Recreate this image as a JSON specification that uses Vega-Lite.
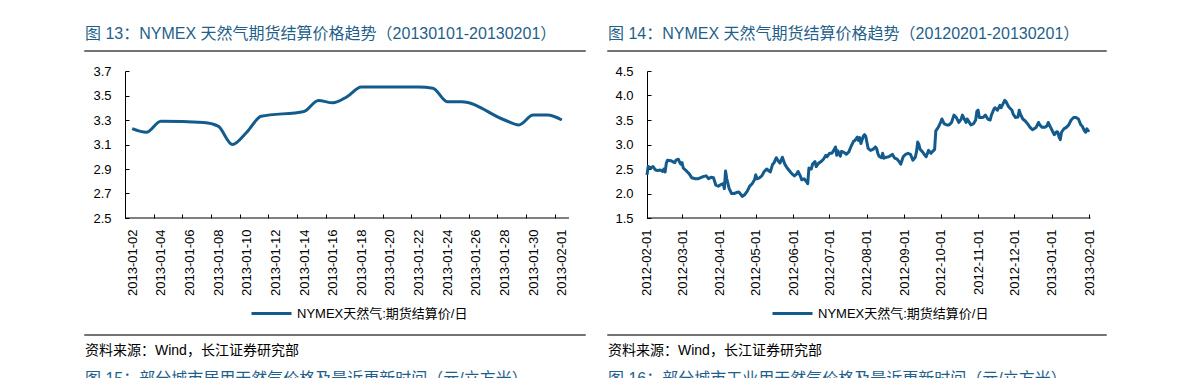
{
  "$schema": "https://vega.github.io/schema/vega-lite/v6.json",
  "background": "white",
  "padding": {"left": 84, "top": 25, "right": 10, "bottom": 0},
  "spacing": 21,
  "resolve": {"scale": {"color": "independent"}, "legend": {"color": "independent"}},
  "config": {
    "font": "Liberation Sans, Noto Sans CJK SC, sans-serif",
    "view": {"stroke": null},
    "axis": {"grid": false, "labelColor": "#000", "domainColor": "#000", "tickColor": "#000", "labelFontSize": 13, "tickSize": -4, "labelOverlap": false}
  },
  "hconcat": [
    {
      "spacing": 13,
      "resolve": {"scale": {"color": "independent"}, "legend": {"color": "independent"}},
      "vconcat": [
        {
          "width": 500, "height": 0.01,
          "view": {"stroke": "#444", "strokeWidth": 1.5},
          "title": {"text": "图 13：NYMEX 天然气期货结算价格趋势（20130101-20130201）", "anchor": "start", "frame": "group", "orient": "top", "offset": 9, "fontSize": 16, "fontWeight": "normal", "color": "#1F5F8B"},
          "data": {"values": []},
          "mark": "point"
        },
        {
          "width": 500, "height": 147,
          "data": {"values": [
            {"date": "2013-01-02", "price": 3.23},
            {"date": "2013-01-03", "price": 3.20},
            {"date": "2013-01-04", "price": 3.29},
            {"date": "2013-01-07", "price": 3.28},
            {"date": "2013-01-08", "price": 3.25},
            {"date": "2013-01-09", "price": 3.10},
            {"date": "2013-01-10", "price": 3.20},
            {"date": "2013-01-11", "price": 3.33},
            {"date": "2013-01-14", "price": 3.37},
            {"date": "2013-01-15", "price": 3.46},
            {"date": "2013-01-16", "price": 3.44},
            {"date": "2013-01-17", "price": 3.49},
            {"date": "2013-01-18", "price": 3.57},
            {"date": "2013-01-22", "price": 3.57},
            {"date": "2013-01-23", "price": 3.56},
            {"date": "2013-01-24", "price": 3.45},
            {"date": "2013-01-25", "price": 3.45},
            {"date": "2013-01-28", "price": 3.30},
            {"date": "2013-01-29", "price": 3.26},
            {"date": "2013-01-30", "price": 3.34},
            {"date": "2013-01-31", "price": 3.34},
            {"date": "2013-02-01", "price": 3.30}
          ]},
          "layer": [
            {
              "mark": {"type": "line", "interpolate": "monotone", "strokeWidth": 3},
              "encoding": {
                "x": {"field": "date", "type": "temporal",
                  "scale": {"type": "utc", "domain": [{"year": 2012, "month": 12, "date": 29, "hours": 16, "minutes": 58, "utc": true}, {"year": 2013, "month": 2, "date": 2, "hours": 14, "minutes": 49, "utc": true}]},
                  "axis": {
                    "values": [
                      {"year": 2013, "month": 1, "date": 2, "utc": true},
                      {"year": 2013, "month": 1, "date": 4, "utc": true},
                      {"year": 2013, "month": 1, "date": 6, "utc": true},
                      {"year": 2013, "month": 1, "date": 8, "utc": true},
                      {"year": 2013, "month": 1, "date": 10, "utc": true},
                      {"year": 2013, "month": 1, "date": 12, "utc": true},
                      {"year": 2013, "month": 1, "date": 14, "utc": true},
                      {"year": 2013, "month": 1, "date": 16, "utc": true},
                      {"year": 2013, "month": 1, "date": 18, "utc": true},
                      {"year": 2013, "month": 1, "date": 20, "utc": true},
                      {"year": 2013, "month": 1, "date": 22, "utc": true},
                      {"year": 2013, "month": 1, "date": 24, "utc": true},
                      {"year": 2013, "month": 1, "date": 26, "utc": true},
                      {"year": 2013, "month": 1, "date": 28, "utc": true},
                      {"year": 2013, "month": 1, "date": 30, "utc": true},
                      {"year": 2013, "month": 2, "date": 1, "utc": true}
                    ],
                    "tickCount": 40,
                    "format": "%Y-%m-%d", "labelAngle": 270, "labelPadding": 15,
                    "labelFlush": false, "labelOverlap": false, "labelBound": false,
                    "tickOffset": -7.16, "labelOffset": 7.16,
                    "domain": false, "title": null
                  }
                },
                "y": {"field": "price", "type": "quantitative",
                  "scale": {"domain": [2.5, 3.7], "nice": false, "zero": false},
                  "axis": {"values": [2.5, 2.7, 2.9, 3.1, 3.3, 3.5, 3.7], "tickCount": 20, "format": ".1f", "offset": -40, "labelPadding": 18, "labelOverlap": false, "title": null}
                },
                "color": {"datum": "NYMEX天然气:期货结算价/日", "type": "nominal",
                  "scale": {"range": ["#135B8C"]},
                  "legend": {"title": null, "orient": "none", "legendX": 165, "legendY": 236, "symbolType": "M-1,0H7", "symbolSize": 100, "symbolStrokeWidth": 3, "labelOffset": 34, "labelFontSize": 13, "labelColor": "#000", "padding": 0, "labelLimit": 400}
                }
              }
            },
            {
              "data": {"values": [{}]},
              "mark": {"type": "rule", "color": "#000", "strokeWidth": 1},
              "encoding": {
                "x": {"datum": {"year": 2013, "month": 1, "date": 1, "hours": 12, "utc": true}, "type": "temporal"},
                "x2": {"datum": {"year": 2013, "month": 2, "date": 1, "hours": 12, "utc": true}},
                "y": {"datum": 2.5, "type": "quantitative"}
              }
            }
          ]
        },
        {
          "width": 500, "height": 0.01,
          "view": {"stroke": "#444", "strokeWidth": 1.5},
          "title": {"text": "资料来源：Wind，长江证券研究部", "anchor": "start", "frame": "group", "orient": "bottom", "offset": 9, "fontSize": 14, "fontWeight": "normal", "color": "#000",
            "subtitle": "图 15：部分城市居用天然气价格及最近更新时间（元/立方米）", "subtitleFontSize": 16, "subtitleColor": "#1F5F8B", "subtitlePadding": 13},
          "data": {"values": []},
          "mark": "point"
        }
      ]
    },
    {
      "spacing": 13,
      "resolve": {"scale": {"color": "independent"}, "legend": {"color": "independent"}},
      "vconcat": [
        {
          "width": 498, "height": 0.01,
          "view": {"stroke": "#444", "strokeWidth": 1.5},
          "title": {"text": "图 14：NYMEX 天然气期货结算价格趋势（20120201-20130201）", "anchor": "start", "frame": "group", "orient": "top", "offset": 9, "fontSize": 16, "fontWeight": "normal", "color": "#1F5F8B"},
          "data": {"values": []},
          "mark": "point"
        },
        {
          "width": 498, "height": 147,
          "data": {"values": [
            {"date": "2012-02-01", "price": 2.38}, {"date": "2012-02-02", "price": 2.55}, {"date": "2012-02-04", "price": 2.52}, {"date": "2012-02-06", "price": 2.55},
            {"date": "2012-02-08", "price": 2.48}, {"date": "2012-02-10", "price": 2.47}, {"date": "2012-02-12", "price": 2.48}, {"date": "2012-02-14", "price": 2.45},
            {"date": "2012-02-15", "price": 2.50}, {"date": "2012-02-16", "price": 2.44}, {"date": "2012-02-17", "price": 2.62}, {"date": "2012-02-18", "price": 2.68},
            {"date": "2012-02-21", "price": 2.67}, {"date": "2012-02-23", "price": 2.64}, {"date": "2012-02-24", "price": 2.63}, {"date": "2012-02-25", "price": 2.68},
            {"date": "2012-02-27", "price": 2.70}, {"date": "2012-02-28", "price": 2.64}, {"date": "2012-02-29", "price": 2.60}, {"date": "2012-03-01", "price": 2.63},
            {"date": "2012-03-02", "price": 2.52}, {"date": "2012-03-05", "price": 2.45}, {"date": "2012-03-07", "price": 2.40}, {"date": "2012-03-09", "price": 2.32},
            {"date": "2012-03-12", "price": 2.30}, {"date": "2012-03-14", "price": 2.30}, {"date": "2012-03-16", "price": 2.32}, {"date": "2012-03-19", "price": 2.35},
            {"date": "2012-03-21", "price": 2.36}, {"date": "2012-03-23", "price": 2.30}, {"date": "2012-03-25", "price": 2.33}, {"date": "2012-03-27", "price": 2.32},
            {"date": "2012-03-29", "price": 2.17}, {"date": "2012-03-31", "price": 2.15}, {"date": "2012-04-02", "price": 2.18}, {"date": "2012-04-04", "price": 2.20},
            {"date": "2012-04-05", "price": 2.10}, {"date": "2012-04-06", "price": 2.46}, {"date": "2012-04-07", "price": 2.30}, {"date": "2012-04-09", "price": 2.10},
            {"date": "2012-04-11", "price": 2.00}, {"date": "2012-04-13", "price": 2.00}, {"date": "2012-04-15", "price": 2.02}, {"date": "2012-04-17", "price": 2.03},
            {"date": "2012-04-19", "price": 1.97}, {"date": "2012-04-20", "price": 1.94}, {"date": "2012-04-22", "price": 1.98}, {"date": "2012-04-24", "price": 2.05},
            {"date": "2012-04-26", "price": 2.15}, {"date": "2012-04-28", "price": 2.20}, {"date": "2012-04-30", "price": 2.28}, {"date": "2012-05-01", "price": 2.38},
            {"date": "2012-05-02", "price": 2.30}, {"date": "2012-05-04", "price": 2.32}, {"date": "2012-05-06", "price": 2.36}, {"date": "2012-05-08", "price": 2.45},
            {"date": "2012-05-10", "price": 2.50}, {"date": "2012-05-12", "price": 2.46}, {"date": "2012-05-13", "price": 2.44}, {"date": "2012-05-15", "price": 2.60},
            {"date": "2012-05-16", "price": 2.62}, {"date": "2012-05-18", "price": 2.73}, {"date": "2012-05-20", "price": 2.65}, {"date": "2012-05-21", "price": 2.62},
            {"date": "2012-05-23", "price": 2.74}, {"date": "2012-05-25", "price": 2.60}, {"date": "2012-05-27", "price": 2.52}, {"date": "2012-05-29", "price": 2.46},
            {"date": "2012-05-31", "price": 2.40}, {"date": "2012-06-02", "price": 2.36}, {"date": "2012-06-04", "price": 2.40}, {"date": "2012-06-05", "price": 2.45},
            {"date": "2012-06-07", "price": 2.35}, {"date": "2012-06-08", "price": 2.28}, {"date": "2012-06-10", "price": 2.30}, {"date": "2012-06-12", "price": 2.24},
            {"date": "2012-06-13", "price": 2.20}, {"date": "2012-06-14", "price": 2.52}, {"date": "2012-06-16", "price": 2.50}, {"date": "2012-06-17", "price": 2.60},
            {"date": "2012-06-19", "price": 2.65}, {"date": "2012-06-20", "price": 2.55}, {"date": "2012-06-22", "price": 2.62}, {"date": "2012-06-24", "price": 2.65},
            {"date": "2012-06-26", "price": 2.70}, {"date": "2012-06-28", "price": 2.78}, {"date": "2012-06-29", "price": 2.75}, {"date": "2012-07-01", "price": 2.82},
            {"date": "2012-07-03", "price": 2.82}, {"date": "2012-07-05", "price": 2.90}, {"date": "2012-07-06", "price": 2.95}, {"date": "2012-07-07", "price": 2.78},
            {"date": "2012-07-08", "price": 2.87}, {"date": "2012-07-10", "price": 2.76}, {"date": "2012-07-11", "price": 2.86}, {"date": "2012-07-13", "price": 2.84},
            {"date": "2012-07-15", "price": 2.80}, {"date": "2012-07-17", "price": 2.85}, {"date": "2012-07-19", "price": 2.97}, {"date": "2012-07-21", "price": 3.07},
            {"date": "2012-07-22", "price": 3.08}, {"date": "2012-07-24", "price": 3.15}, {"date": "2012-07-25", "price": 3.08}, {"date": "2012-07-26", "price": 3.14},
            {"date": "2012-07-27", "price": 3.02}, {"date": "2012-07-29", "price": 3.17}, {"date": "2012-07-30", "price": 3.20}, {"date": "2012-07-31", "price": 3.17},
            {"date": "2012-08-02", "price": 2.92}, {"date": "2012-08-04", "price": 2.88}, {"date": "2012-08-06", "price": 2.90}, {"date": "2012-08-08", "price": 2.95},
            {"date": "2012-08-09", "price": 2.92}, {"date": "2012-08-10", "price": 2.82}, {"date": "2012-08-11", "price": 2.76}, {"date": "2012-08-13", "price": 2.73},
            {"date": "2012-08-14", "price": 2.82}, {"date": "2012-08-15", "price": 2.72}, {"date": "2012-08-17", "price": 2.74}, {"date": "2012-08-19", "price": 2.75},
            {"date": "2012-08-21", "price": 2.78}, {"date": "2012-08-22", "price": 2.80}, {"date": "2012-08-24", "price": 2.72}, {"date": "2012-08-26", "price": 2.70},
            {"date": "2012-08-28", "price": 2.64}, {"date": "2012-08-29", "price": 2.60}, {"date": "2012-08-31", "price": 2.75}, {"date": "2012-09-02", "price": 2.80},
            {"date": "2012-09-04", "price": 2.82}, {"date": "2012-09-06", "price": 2.80}, {"date": "2012-09-08", "price": 2.68}, {"date": "2012-09-10", "price": 2.74},
            {"date": "2012-09-11", "price": 2.85}, {"date": "2012-09-12", "price": 3.05}, {"date": "2012-09-13", "price": 3.00}, {"date": "2012-09-14", "price": 2.90},
            {"date": "2012-09-16", "price": 2.85}, {"date": "2012-09-18", "price": 2.78}, {"date": "2012-09-19", "price": 2.75}, {"date": "2012-09-21", "price": 2.88},
            {"date": "2012-09-23", "price": 2.82}, {"date": "2012-09-24", "price": 2.85}, {"date": "2012-09-26", "price": 2.90}, {"date": "2012-09-27", "price": 3.28},
            {"date": "2012-09-29", "price": 3.35}, {"date": "2012-10-01", "price": 3.45}, {"date": "2012-10-02", "price": 3.52}, {"date": "2012-10-04", "price": 3.42},
            {"date": "2012-10-06", "price": 3.40}, {"date": "2012-10-08", "price": 3.40}, {"date": "2012-10-10", "price": 3.45}, {"date": "2012-10-12", "price": 3.60},
            {"date": "2012-10-14", "price": 3.55}, {"date": "2012-10-16", "price": 3.45}, {"date": "2012-10-18", "price": 3.52}, {"date": "2012-10-19", "price": 3.60},
            {"date": "2012-10-21", "price": 3.50}, {"date": "2012-10-22", "price": 3.45}, {"date": "2012-10-23", "price": 3.52}, {"date": "2012-10-26", "price": 3.40},
            {"date": "2012-10-28", "price": 3.42}, {"date": "2012-10-30", "price": 3.50}, {"date": "2012-10-31", "price": 3.68}, {"date": "2012-11-01", "price": 3.70},
            {"date": "2012-11-02", "price": 3.55}, {"date": "2012-11-05", "price": 3.55}, {"date": "2012-11-07", "price": 3.60}, {"date": "2012-11-09", "price": 3.52},
            {"date": "2012-11-11", "price": 3.50}, {"date": "2012-11-12", "price": 3.60}, {"date": "2012-11-14", "price": 3.72}, {"date": "2012-11-15", "price": 3.75},
            {"date": "2012-11-17", "price": 3.70}, {"date": "2012-11-19", "price": 3.80}, {"date": "2012-11-20", "price": 3.75}, {"date": "2012-11-22", "price": 3.85},
            {"date": "2012-11-23", "price": 3.90}, {"date": "2012-11-24", "price": 3.88}, {"date": "2012-11-26", "price": 3.78}, {"date": "2012-11-27", "price": 3.75},
            {"date": "2012-11-29", "price": 3.70}, {"date": "2012-11-30", "price": 3.62}, {"date": "2012-12-02", "price": 3.55}, {"date": "2012-12-04", "price": 3.56},
            {"date": "2012-12-05", "price": 3.70}, {"date": "2012-12-06", "price": 3.62}, {"date": "2012-12-08", "price": 3.52}, {"date": "2012-12-10", "price": 3.48},
            {"date": "2012-12-12", "price": 3.42}, {"date": "2012-12-14", "price": 3.35}, {"date": "2012-12-16", "price": 3.30}, {"date": "2012-12-18", "price": 3.33},
            {"date": "2012-12-19", "price": 3.35}, {"date": "2012-12-21", "price": 3.45}, {"date": "2012-12-22", "price": 3.40}, {"date": "2012-12-24", "price": 3.35},
            {"date": "2012-12-26", "price": 3.35}, {"date": "2012-12-28", "price": 3.38}, {"date": "2012-12-29", "price": 3.45}, {"date": "2012-12-31", "price": 3.35},
            {"date": "2013-01-02", "price": 3.25}, {"date": "2013-01-03", "price": 3.20}, {"date": "2013-01-05", "price": 3.26}, {"date": "2013-01-06", "price": 3.25},
            {"date": "2013-01-07", "price": 3.15}, {"date": "2013-01-08", "price": 3.10}, {"date": "2013-01-09", "price": 3.25}, {"date": "2013-01-11", "price": 3.32},
            {"date": "2013-01-13", "price": 3.35}, {"date": "2013-01-15", "price": 3.40}, {"date": "2013-01-16", "price": 3.45}, {"date": "2013-01-17", "price": 3.50},
            {"date": "2013-01-19", "price": 3.55}, {"date": "2013-01-21", "price": 3.55}, {"date": "2013-01-23", "price": 3.52}, {"date": "2013-01-25", "price": 3.40},
            {"date": "2013-01-26", "price": 3.38}, {"date": "2013-01-28", "price": 3.28}, {"date": "2013-01-29", "price": 3.25}, {"date": "2013-01-30", "price": 3.32},
            {"date": "2013-01-31", "price": 3.28}, {"date": "2013-02-01", "price": 3.30}
          ]},
          "layer": [
            {
              "mark": {"type": "line", "strokeWidth": 3, "strokeJoin": "round"},
              "encoding": {
                "x": {"field": "date", "type": "temporal",
                  "scale": {"type": "utc", "domain": [{"year": 2011, "month": 12, "date": 30, "hours": 17, "minutes": 31, "utc": true}, {"year": 2013, "month": 2, "date": 14, "hours": 19, "minutes": 40, "utc": true}]},
                  "axis": {
                    "values": [
                      {"year": 2012, "month": 2, "date": 1, "utc": true},
                      {"year": 2012, "month": 3, "date": 1, "utc": true},
                      {"year": 2012, "month": 4, "date": 1, "utc": true},
                      {"year": 2012, "month": 5, "date": 1, "utc": true},
                      {"year": 2012, "month": 6, "date": 1, "utc": true},
                      {"year": 2012, "month": 7, "date": 1, "utc": true},
                      {"year": 2012, "month": 8, "date": 1, "utc": true},
                      {"year": 2012, "month": 9, "date": 1, "utc": true},
                      {"year": 2012, "month": 10, "date": 1, "utc": true},
                      {"year": 2012, "month": 11, "date": 1, "utc": true},
                      {"year": 2012, "month": 12, "date": 1, "utc": true},
                      {"year": 2013, "month": 1, "date": 1, "utc": true},
                      {"year": 2013, "month": 2, "date": 1, "utc": true}
                    ],
                    "tickCount": 40,
                    "format": "%Y-%m-%d", "labelAngle": 270, "labelPadding": 15,
                    "labelFlush": false, "labelOverlap": false, "labelBound": false,
                    "domain": false, "title": null
                  }
                },
                "y": {"field": "price", "type": "quantitative",
                  "scale": {"domain": [1.5, 4.5], "nice": false, "zero": false},
                  "axis": {"values": [1.5, 2.0, 2.5, 3.0, 3.5, 4.0, 4.5], "tickCount": 20, "format": ".1f", "offset": -39, "labelPadding": 18, "labelOverlap": false, "title": null}
                },
                "color": {"datum": "NYMEX天然气:期货结算价/日", "type": "nominal",
                  "scale": {"range": ["#135B8C"]},
                  "legend": {"title": null, "orient": "none", "legendX": 163, "legendY": 236, "symbolType": "M-1,0H7", "symbolSize": 100, "symbolStrokeWidth": 3, "labelOffset": 34, "labelFontSize": 13, "labelColor": "#000", "padding": 0, "labelLimit": 400}
                }
              }
            },
            {
              "data": {"values": [{}]},
              "mark": {"type": "rule", "color": "#000", "strokeWidth": 1},
              "encoding": {
                "x": {"datum": {"year": 2012, "month": 2, "date": 1, "utc": true}, "type": "temporal"},
                "x2": {"datum": {"year": 2013, "month": 2, "date": 2, "utc": true}},
                "y": {"datum": 1.5, "type": "quantitative"}
              }
            }
          ]
        },
        {
          "width": 498, "height": 0.01,
          "view": {"stroke": "#444", "strokeWidth": 1.5},
          "title": {"text": "资料来源：Wind，长江证券研究部", "anchor": "start", "frame": "group", "orient": "bottom", "offset": 9, "fontSize": 14, "fontWeight": "normal", "color": "#000",
            "subtitle": "图 16：部分城市工业用天然气价格及最近更新时间（元/立方米）", "subtitleFontSize": 16, "subtitleColor": "#1F5F8B", "subtitlePadding": 13},
          "data": {"values": []},
          "mark": "point"
        }
      ]
    }
  ]
}
